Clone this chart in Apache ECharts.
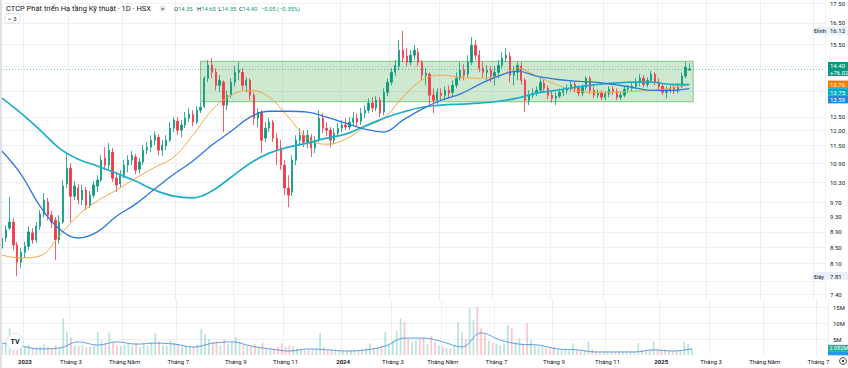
<!DOCTYPE html>
<html><head><meta charset="utf-8">
<script src="https://cdn.jsdelivr.net/npm/echarts@6/dist/echarts.min.js"></script>
<style>html,body{margin:0;padding:0;background:#fff}#c{width:848px;height:368px}</style>
</head><body><div id="c"></div>
<script>
// ---- data (each slot = ~3 trading days) ----
const openP = [8.48,8.74,9.00,9.16,8.56,8.14,8.38,8.53,8.87,8.69,
 9.05,9.38,9.72,9.35,9.21,8.69,9.16,10.25,10.74,9.89,
 10.13,9.78,10.07,9.63,9.92,10.19,10.37,11.07,10.84,11.26,
 10.43,10.25,10.52,10.84,11.00,11.10,10.71,10.94,11.33,11.43,
 11.67,11.77,11.33,11.47,11.67,12.09,12.34,12.02,12.20,12.45,
 12.60,12.31,12.75,12.90,14.01,14.56,14.26,13.72,13.85,12.94,
 13.33,13.85,14.26,14.26,13.72,13.93,13.33,12.45,12.68,11.74,
 12.09,12.31,11.74,11.40,10.84,10.13,10.01,11.00,11.67,11.84,
 11.60,11.77,11.40,11.67,12.45,12.09,12.02,11.67,11.91,12.09,
 12.20,12.13,12.31,12.45,12.34,12.64,12.75,13.02,12.83,13.13,
 12.68,13.44,13.85,14.26,14.52,15.22,14.96,14.69,15.00,15.13,
 14.69,14.14,14.18,13.33,13.13,13.41,13.33,13.52,13.44,13.72,
 14.01,14.35,14.18,14.69,15.45,15.00,14.43,14.26,14.35,14.10,
 14.26,14.56,14.87,14.96,14.14,14.26,14.52,13.93,13.13,13.33,
 13.41,13.52,13.81,13.60,13.33,13.21,13.29,13.44,13.52,13.60,
 13.76,13.60,13.41,13.64,14.01,13.52,13.33,13.41,13.25,13.37,
 13.56,13.48,13.25,13.33,13.56,13.60,13.68,13.85,14.01,13.76,
 13.93,14.18,13.85,13.68,13.44,13.52,13.60,13.48,13.68,14.10,
 14.35];
const highP = [8.90,9.08,9.86,9.26,8.64,8.48,8.64,9.05,9.00,9.16,
 9.49,9.98,9.84,9.46,9.29,9.35,10.37,11.23,10.90,10.34,
 10.25,10.22,10.16,10.04,10.34,10.52,11.16,11.43,11.57,11.40,
 10.61,10.68,11.00,11.16,11.30,11.20,11.07,11.50,11.60,11.84,
 11.98,11.88,11.67,11.84,12.31,12.49,12.49,12.38,12.68,12.83,
 12.75,12.90,13.05,14.10,14.78,14.87,14.43,14.14,13.93,13.52,
 14.01,14.52,14.69,14.43,14.05,14.01,13.44,12.83,12.75,12.31,
 12.45,12.38,11.91,11.67,11.00,10.52,11.16,11.84,12.09,12.02,
 12.02,11.88,11.81,12.75,12.64,12.31,12.13,12.09,12.27,12.38,
 12.45,12.49,12.68,12.64,12.83,12.94,13.21,13.25,13.29,13.25,
 13.60,14.01,14.43,14.78,15.68,16.12,15.31,15.22,15.45,15.31,
 14.78,14.43,14.26,13.60,13.60,13.60,13.68,13.72,13.93,14.26,
 14.69,14.60,15.00,15.82,15.68,15.22,14.69,14.56,14.52,14.52,
 14.78,15.13,15.31,15.13,14.52,14.69,14.69,14.01,13.52,13.60,
 13.68,14.01,13.97,13.72,13.52,13.44,13.60,13.64,13.76,13.93,
 13.89,13.72,13.76,14.10,14.10,13.68,13.56,13.52,13.48,13.68,
 13.68,13.60,13.48,13.68,13.72,13.81,14.01,14.18,14.14,14.05,
 14.31,14.26,14.01,13.81,13.68,13.72,13.72,13.81,14.26,14.69,
 14.65];
const lowP = [8.38,8.64,8.95,8.43,7.81,8.00,8.24,8.43,8.59,8.61,
 8.95,9.29,9.21,9.00,8.19,8.59,9.11,10.13,9.16,9.78,
 9.66,9.63,9.49,9.55,9.84,10.01,10.31,10.68,10.68,10.31,
 10.01,10.13,10.43,10.61,10.84,10.55,10.58,10.84,11.20,11.26,
 11.50,11.16,11.13,11.33,11.60,11.95,11.84,11.77,12.09,12.31,
 12.16,12.24,12.64,12.83,13.85,14.01,13.52,13.44,11.95,12.75,
 13.21,13.68,13.93,13.52,13.44,13.13,12.20,12.13,11.23,11.60,
 11.95,11.60,10.84,10.68,9.92,9.57,9.89,10.84,11.47,11.43,
 11.40,11.10,11.23,11.60,11.91,11.81,11.43,11.53,11.77,11.95,
 12.02,12.02,12.20,12.16,12.20,12.45,12.64,12.68,12.71,12.49,
 12.56,13.29,13.72,14.10,14.35,14.69,14.52,14.56,14.78,14.52,
 13.93,13.72,12.94,12.64,12.94,13.13,13.13,13.21,13.29,13.60,
 13.93,13.93,14.05,14.56,14.78,14.26,14.05,13.93,13.85,13.72,
 14.01,14.43,14.69,13.85,13.72,13.93,13.76,12.68,12.94,13.21,
 13.29,13.44,13.44,13.17,13.05,12.94,13.21,13.29,13.37,13.48,
 13.44,13.29,13.29,13.52,13.37,13.21,13.21,13.13,13.13,13.25,
 13.33,13.13,13.13,13.25,13.41,13.48,13.56,13.68,13.64,13.64,
 13.85,13.72,13.52,13.33,13.21,13.41,13.37,13.41,13.60,14.01,
 14.35];
const closeP = [8.74,8.95,9.16,8.56,8.14,8.38,8.53,8.90,8.69,9.05,
 9.38,9.78,9.35,9.16,8.69,9.16,10.19,10.74,9.89,10.19,
 9.78,10.07,9.63,9.92,10.22,10.37,11.00,10.84,11.33,10.43,
 10.22,10.52,10.84,11.00,11.16,10.68,10.94,11.33,11.43,11.67,
 11.84,11.33,11.50,11.67,12.09,12.38,12.02,12.20,12.45,12.60,
 12.31,12.75,12.86,14.01,14.56,14.26,13.72,13.93,12.94,13.33,
 13.85,14.26,14.35,13.72,13.93,13.33,12.45,12.68,11.67,12.09,
 12.31,11.74,11.33,10.84,10.13,9.92,11.00,11.67,11.84,11.60,
 11.84,11.40,11.67,12.45,12.09,12.02,11.67,11.91,12.09,12.20,
 12.13,12.31,12.45,12.31,12.64,12.75,13.02,12.83,13.13,12.64,
 13.44,13.85,14.26,14.56,15.22,14.87,14.69,15.00,15.22,14.69,
 14.14,14.22,13.33,13.13,13.44,13.33,13.52,13.41,13.72,14.01,
 14.35,14.14,14.69,15.45,15.00,14.43,14.26,14.35,14.10,14.26,
 14.56,14.87,15.00,14.14,14.26,14.56,13.93,13.13,13.33,13.41,
 13.52,13.85,13.60,13.33,13.21,13.29,13.44,13.52,13.60,13.76,
 13.60,13.41,13.64,14.01,13.52,13.33,13.41,13.25,13.37,13.56,
 13.48,13.25,13.33,13.56,13.60,13.68,13.85,14.01,13.76,13.93,
 14.18,13.85,13.68,13.44,13.52,13.60,13.48,13.68,14.10,14.48,
 14.40];
const volumeM = [3.5,4.0,8.4,4.5,5.0,3.0,2.5,3.2,2.0,2.4,
 2.8,3.5,2.6,2.0,3.0,2.2,11.5,7.2,5.5,3.0,
 2.8,3.2,2.5,2.6,3.0,7.2,4.5,3.8,7.0,4.0,
 3.0,2.8,3.2,3.5,3.0,3.8,2.5,3.6,3.0,4.0,
 6.9,4.2,3.0,3.0,4.5,3.8,3.5,2.6,3.0,2.8,
 2.5,3.2,8.1,6.5,5.0,4.0,4.2,3.0,4.8,3.5,
 3.8,5.6,4.0,3.2,2.8,2.5,3.5,2.2,3.8,2.0,
 1.8,2.0,2.4,3.7,2.5,3.0,2.8,2.0,1.6,1.4,
 1.5,1.8,2.0,6.9,2.6,1.5,1.8,1.4,1.3,1.2,
 1.3,1.5,1.6,1.2,1.8,2.0,3.7,2.2,2.5,3.0,
 7.2,3.5,4.5,7.5,11.5,10.4,5.0,4.0,4.5,5.0,
 5.5,3.5,6.0,4.2,3.0,2.5,2.2,2.0,3.0,10.4,
 7.2,5.0,14.6,11.0,15.0,8.4,6.5,4.5,4.0,3.5,
 3.0,3.5,9.4,8.3,4.0,5.2,3.5,9.9,4.7,3.0,
 2.5,2.8,2.2,2.0,2.5,1.8,1.5,1.6,1.4,3.7,
 1.3,1.2,1.5,4.2,1.8,1.2,1.0,1.1,1.3,1.0,
 0.9,1.2,1.0,1.3,1.1,1.0,3.7,1.5,1.2,1.4,
 4.2,1.6,1.3,1.5,1.2,1.4,1.3,1.6,4.2,3.5,
 2.082];
// moving averages, read at every 5th slot
const maSlots = [0,5,10,15,20,25,30,35,40,45,50,55,60,65,70,75,80,85,90,95,100,105,110,115,120,125,130,135,140,145,150,155,160,165,170,175,180];
const maOrange = [8.31,8.24,8.29,8.79,9.35,9.75,10.07,10.43,10.77,11.10,11.84,12.75,13.33,13.52,13.25,12.49,11.74,11.53,11.70,12.13,12.45,13.25,13.93,14.14,14.05,14.01,14.10,14.43,14.10,13.76,13.52,13.44,13.44,13.48,13.52,13.60,13.76];
const maTeal = [13.21,12.64,12.02,11.40,11.03,10.81,10.58,10.34,10.07,9.89,9.84,10.04,10.46,10.90,11.23,11.43,11.57,11.74,11.88,12.16,12.45,12.68,12.86,12.94,12.98,13.02,13.09,13.21,13.41,13.52,13.64,13.74,13.81,13.85,13.85,13.76,13.75];
const maBlue = [11.30,10.55,9.60,8.98,8.74,8.90,9.32,9.66,10.10,10.55,10.97,11.50,11.98,12.49,12.71,12.71,12.68,12.49,12.27,12.06,11.95,12.38,12.79,13.13,13.37,13.76,14.10,14.31,14.10,13.97,13.89,13.85,13.76,13.64,13.52,13.52,13.59];
const volMA = [3.7,2.8,1.9,2.2,4.1,3.1,4.1,3.4,3.7,3.4,2.5,3.7,4.1,2.8,1.9,1.25,1.9,1.6,1.25,1.6,2.8,5.3,5.3,4.1,2.5,6.9,4.7,3.4,3.1,1.9,1.6,0.95,0.95,0.95,1.6,1.25,1.9];
// axis ticks
const totalSlots = 216;
const xTickSlots = [6,18,32,46,61,74,89,102,115,129,144,158,172,185,199,213];
const xTickLabels = ['2023','Tháng 3','Tháng Năm','Tháng 7','Tháng 9','Tháng 11','2024','Tháng 3','Tháng Năm','Tháng 7','Tháng 9','Tháng 11','2025','Tháng 3','Tháng Năm','Tháng 7'];
const priceGridTicks = [17.5,16.5,15.5,14.5,13.5,12.5,12,11.5,10.9,10.3,9.7,9.3,8.9,8.5,8.1,7.7,7.4];
const priceTickLabels = [17.5,16.5,15.5,12.5,12,11.5,10.9,10.3,9.7,9.3,8.9,8.5,8.1,7.4];
const priceAxisRange = [7.277, 17.64];
const volTicks = [5,10,15];
const volAxisRange = [0, 17.2];
// annotations
const boxPrices = [13.07, 14.73];
const boxSlots = [52, 181];
const highMark = {slot:105, value:16.12, text:'Đỉnh'};
const lowMark = {slot:4, value:7.81, text:'Đáy'};
const maLast = [13.76, 13.75, 13.59];
const lastSub = '+76.02';
const titleText = 'CTCP Phát triển Hạ tầng Kỹ thuật · 1D · HSX';
const legendItems = [['O','14.35'],['H','14.65'],['L','14.35'],['C','14.40'],['','−0.05 (−0.35%)']];

// ---- chart ----
const FONT = 'Roboto, "Noto Sans", sans-serif';
const TXT = '#131722';
const UP = '#089981', DOWN = '#f23645';
const C_OR = '#f7a545', C_TE = '#1eaec8', C_BL = '#2b78e0';
const slots = []; for (let i = 0; i < totalSlots; i++) slots.push('s' + i);
const tickSet = new Set(xTickSlots);
const isTick = (i) => tickSet.has(i);
const lastIdx = openP.length - 1;

const chart = echarts.init(document.getElementById('c'), null, {renderer: 'svg', width: 848, height: 368});

function xAxisCfg(gi, showLabel) {
  return {
    type: 'category', gridIndex: gi, data: slots, boundaryGap: true,
    axisLine: {show: false}, axisTick: {show: false},
    axisLabel: showLabel ? {
      show: true, interval: isTick, color: TXT, fontSize: 6, fontFamily: FONT, margin: 3,
      formatter: (v) => { const k = xTickSlots.indexOf(parseInt(String(v).slice(1))); if (k < 0) return ''; const t = xTickLabels[k]; return /^\d{4}$/.test(t) ? '{y|' + t + '}' : t; },
      rich: {y: {fontWeight: 'bold', fontSize: 6, color: TXT, fontFamily: FONT}}
    } : {show: false},
    splitLine: {show: true, interval: isTick, lineStyle: {color: '#eef0f5', width: 1}}
  };
}

const candleData = openP.map((o, i) => [o, closeP[i], lowP[i], highP[i]]);
const volData = volumeM.map((v, i) => ({value: v, itemStyle: {color: closeP[i] >= openP[i] ? 'rgba(8,153,129,0.28)' : 'rgba(242,54,69,0.28)'}}));
const pairs = (arr) => maSlots.map((s, i) => [s, arr[i]]);

chart.setOption({
  animation: false,
  backgroundColor: '#ffffff',
  grid: [
    {left: 0, right: 20, top: 0, height: 300},
    {left: 0, right: 20, top: 300, height: 55}
  ],
  xAxis: [xAxisCfg(0, false), xAxisCfg(1, true)],
  yAxis: [
    {type: 'log', logBase: 10, gridIndex: 0, position: 'right', min: priceAxisRange[0], max: priceAxisRange[1],
     axisLine: {show: false}, axisTick: {show: false, customValues: priceGridTicks},
     axisLabel: {customValues: priceTickLabels, formatter: (v) => Number(v).toFixed(2), color: TXT, fontSize: 6, fontFamily: FONT, margin: 5},
     splitLine: {show: true, lineStyle: {color: '#eef0f5', width: 1}}},
    {type: 'value', gridIndex: 1, position: 'right', min: volAxisRange[0], max: volAxisRange[1],
     axisLine: {show: false}, axisTick: {show: false, customValues: volTicks},
     axisLabel: {customValues: volTicks, formatter: (v) => v + 'M', color: TXT, fontSize: 6, fontFamily: FONT, margin: 5},
     splitLine: {show: true, lineStyle: {color: '#eef0f5', width: 1}}}
  ],
  series: [
    {type: 'candlestick', xAxisIndex: 0, yAxisIndex: 0, data: candleData, barWidth: '48%',
     itemStyle: {color: UP, color0: DOWN, borderColor: UP, borderColor0: DOWN, borderWidth: 0.8},
     markArea: {silent: true, itemStyle: {color: 'rgba(76,175,80,0.27)', borderColor: 'rgba(76,175,80,0.65)', borderWidth: 1},
       data: [[{xAxis: 's' + boxSlots[0], yAxis: boxPrices[1]}, {xAxis: 's' + boxSlots[1], yAxis: boxPrices[0]}]]},
     markLine: {silent: true, symbol: 'none', label: {show: false},
       lineStyle: {color: UP, type: [1, 2], width: 1, opacity: 0.55},
       data: [{yAxis: closeP[lastIdx]}]}},
    {type: 'line', xAxisIndex: 0, yAxisIndex: 0, data: pairs(maOrange), showSymbol: false, smooth: 0.4,
     lineStyle: {color: C_OR, width: 1}},
    {type: 'line', xAxisIndex: 0, yAxisIndex: 0, data: pairs(maTeal), showSymbol: false, smooth: 0.4,
     lineStyle: {color: C_TE, width: 1.7}},
    {type: 'line', xAxisIndex: 0, yAxisIndex: 0, data: pairs(maBlue), showSymbol: false, smooth: 0.4,
     lineStyle: {color: C_BL, width: 1.3}},
    {type: 'bar', xAxisIndex: 1, yAxisIndex: 1, data: volData, barWidth: '45%'},
    {type: 'line', xAxisIndex: 1, yAxisIndex: 1, data: pairs(volMA), showSymbol: false, smooth: 0.4,
     lineStyle: {color: '#4a95e3', width: 0.9}}
  ]
});

// ---- overlays positioned from the axes ----
const pp = (slot, v) => chart.convertToPixel({xAxisIndex: 0, yAxisIndex: 0}, [slot, v]);
const pv = (slot, v) => chart.convertToPixel({xAxisIndex: 1, yAxisIndex: 1}, [slot, v]);
const g = [];
const txt = (x, y, text, size, fill, extra) => g.push({type: 'text', z: 100, style: Object.assign({x, y, text, fill, font: size + 'px ' + FONT, verticalAlign: 'middle'}, extra || {})});
const rect = (x, y, w, h, fill, extra) => g.push({type: 'rect', z: 99, shape: Object.assign({x, y, width: w, height: h}, extra && extra.shape || {}), style: Object.assign({fill}, extra && extra.style || {})});

// left edge
rect(0, 0, 2, 368, '#dfe1e6');
// header
txt(6, 8.5, titleText, 7.5, TXT);
g.push({type: 'circle', z: 100, shape: {cx: 162.5, cy: 8.5, r: 3.2}, style: {fill: '#e3e5ea'}});
txt(162.5, 8.6, '=', 5, TXT, {align: 'center'});
const legendX = [174, 197, 218.5, 239, 261];
legendItems.forEach((it, k) => {
  g.push({type: 'text', z: 100, style: {x: legendX[k], y: 8.6, verticalAlign: 'middle',
    text: (it[0] ? '{l|' + it[0] + '}' : '') + '{v|' + it[1] + '}',
    rich: {l: {fill: TXT, font: '5.8px ' + FONT}, v: {fill: UP, font: '5.8px ' + FONT}}}});
});
rect(5, 13.5, 15, 9.5, '#fff', {shape: {r: 2}, style: {stroke: '#d8dbe2', lineWidth: 0.8}});
txt(7.3, 17.6, '⌄', 6, TXT);
txt(13.2, 18.3, '3', 6, TXT);

// right price tags
const yLast = pp(lastIdx, closeP[lastIdx])[1];
const tagTop = yLast - 7;
rect(828, tagTop, 20, 14, UP);
txt(830, tagTop + 3.8, closeP[lastIdx].toFixed(2), 6, '#fff');
txt(830, tagTop + 10.3, lastSub, 6, '#fff');
let prevBottom = tagTop + 14;
[[maLast[0], '#f57c00'], [maLast[1], '#00acc1'], [maLast[2], '#1e88e5']].forEach(([val, col]) => {
  const yy = pp(lastIdx, val)[1];
  const t = Math.max(yy - 3.8, prevBottom);
  rect(828, t, 20, 7.6, col);
  txt(830, t + 3.9, val.toFixed(2), 6, '#fff');
  prevBottom = t + 7.6;
});
// high / low tags
[highMark, lowMark].forEach((m) => {
  const yy = pp(m.slot, m.value)[1];
  rect(812, yy - 4, 36, 8, '#e9f1fc');
  txt(814, yy, m.text, 6, TXT);
  txt(830, yy, m.value.toFixed(2), 6, TXT);
});
// volume tag
const yVol = pv(lastIdx, volumeM[lastIdx])[1];
rect(828, yVol - 3.5, 20, 7, '#22ab94');
txt(829.5, yVol, volumeM[lastIdx].toFixed(3) + 'M', 5.5, '#fff');
rect(828, yVol + 3.5, 20, 3.5, '#2196f3');
// logo and settings icon
g.push({type: 'circle', z: 100, shape: {cx: 15, cy: 342, r: 8.5}, style: {fill: '#fff', stroke: '#e6e8ee', lineWidth: 1}});
txt(15, 342.3, 'TV', 7, TXT, {align: 'center', font: 'bold 7px ' + FONT});
g.push({type: 'circle', z: 100, shape: {cx: 843, cy: 361, r: 3.4}, style: {fill: 'none', stroke: TXT, lineWidth: 0.8}});
g.push({type: 'circle', z: 100, shape: {cx: 843, cy: 361, r: 1}, style: {fill: TXT}});

chart.setOption({graphic: g});
</script>
</body></html>
